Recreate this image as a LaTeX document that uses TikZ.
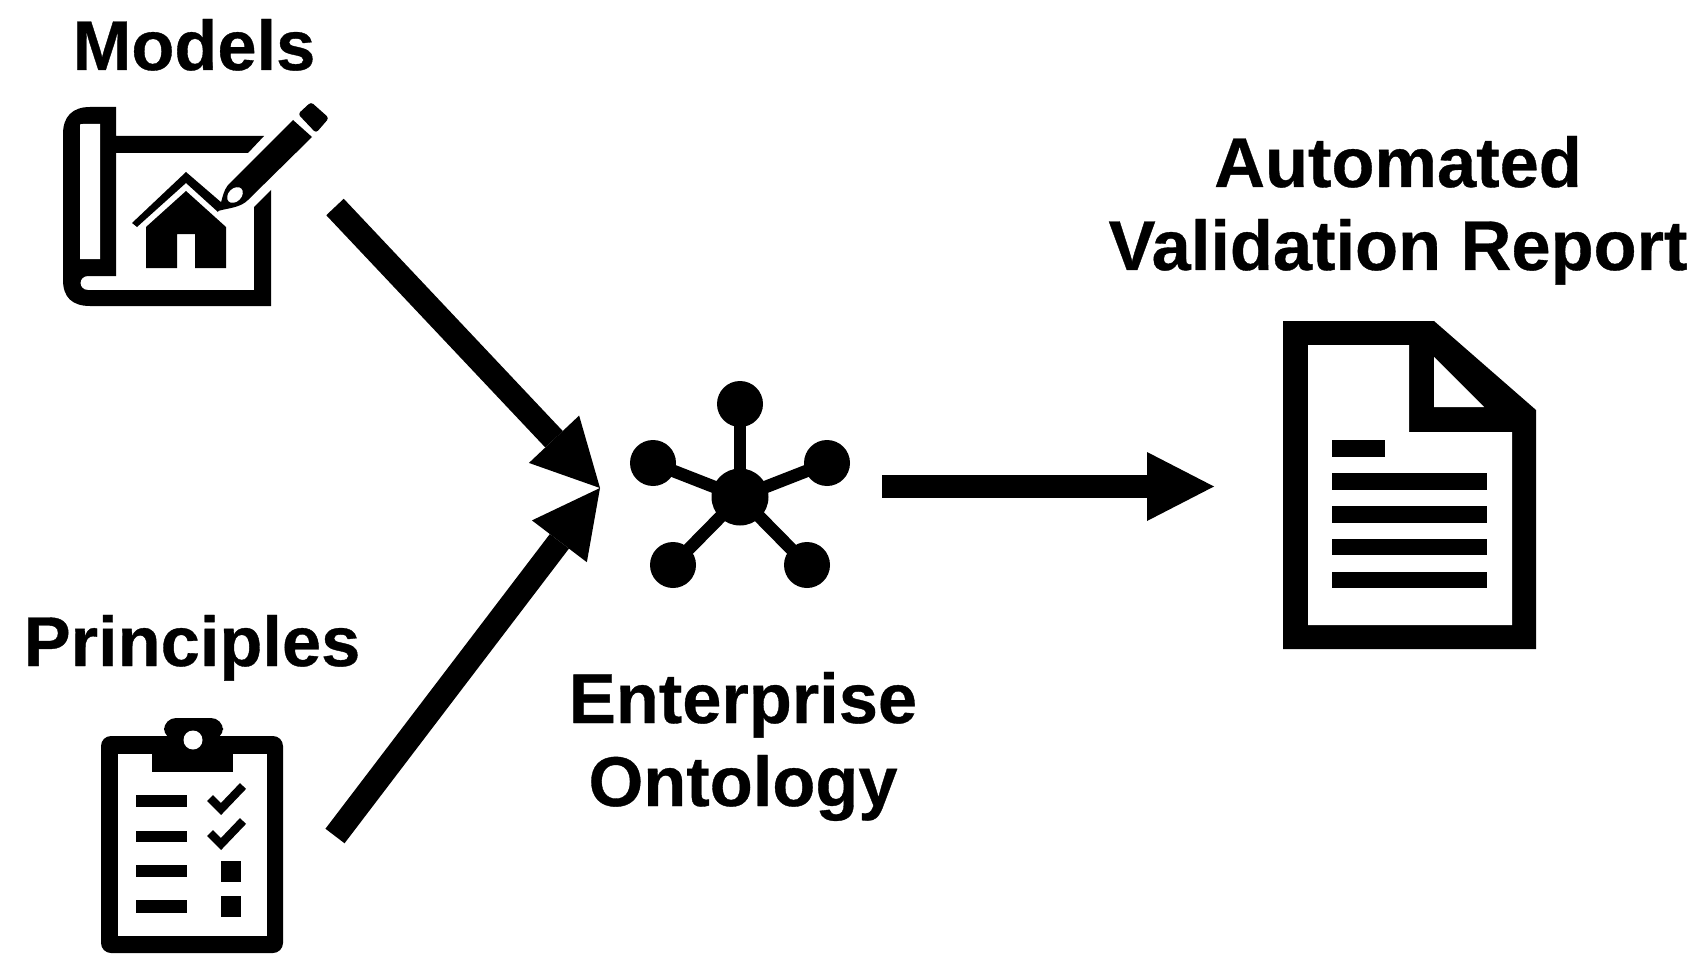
\documentclass[tikz,border=0pt]{standalone}
\usepackage{fontspec}
\setmainfont{Liberation Sans}[BoldFeatures={FakeBold=0.5}]
\usetikzlibrary{arrows.meta}
\tikzset{
  label text/.style={font=\fontsize{35.2pt}{41.5pt}\selectfont\bfseries,inner sep=0pt,align=center,anchor=base},
  flow/.style={line width=12pt,-{Triangle[length=33.5pt,width=34.5pt,line width=0pt]}},
  flow straight/.style={line width=11.5pt,-{Triangle[length=33.5pt,width=34.5pt,line width=0pt]}},
  hub/.style={circle,fill=black,inner sep=0pt,minimum size=28.5pt},
  leaf/.style={circle,fill=black,inner sep=0pt,minimum size=23pt},
  spoke/.style={line width=6.3pt},
  ink/.style={fill=black,draw=none},
  paper/.style={fill=white,draw=none}
}
\begin{document}
\begin{tikzpicture}[x=.5pt,y=-.5pt]
\useasboundingbox (0,0) rectangle (1704,979);
% labels
\node[label text] (models) at (194,70) {Models};
\node[label text] (principles) at (192,666) {Principles};
\node[label text] (enterprise) at (743,806) {Enterprise\\Ontology};
\node[label text] (report) at (1398,270) {Automated\\Validation Report};
% blueprint icon
\path[ink] (100,107) -- (116,107) -- (116,136) -- (264,136) -- (248,153) -- (116,153) -- (116,276) -- (88,276)
  .. controls (78,276) and (78,290) .. (88,290) -- (254,290) -- (254,207) -- (271,190) -- (271,306) -- (90,306)
  .. controls (72,306) and (63,297) .. (63,280) -- (63,134)
  .. controls (63,117) and (72,107) .. (90,107) -- cycle;
\path[paper] (80,126) .. controls (80,124) .. (83,124) -- (100,124) -- (100,259) -- (80,259) -- cycle;
\path[ink] (186,191) -- (226,227) -- (226,268) -- (195,268) -- (195,234) -- (177,234) -- (177,268) -- (146,268) -- (146,227) -- cycle;
\path[ink] (186,172) -- (222,203) -- (218,212) -- (186,183) -- (137,227) -- (132,223) -- cycle;
\path[ink] (218,211) .. controls (222,204) and (222,190) .. (230,183) -- (293,120) -- (312,137) -- (248,200) .. controls (240,208) and (228,208) .. (218,211) -- cycle;
\path[paper,rotate around={45:(235,195)}] (235,195) ellipse [x radius=9,y radius=6.5];
\path[ink,rounded corners=1.5pt] (298,114) -- (311,102) -- (329,118) -- (316,133) -- cycle;
% clipboard icon
\path[ink,rounded corners=5pt] (101,736) rectangle (283,953);
\path[paper] (118,754) rectangle (267,936);
\path[ink] (152,736) rectangle (233,772);
\path[ink,rounded corners=6pt] (164,740) -- (164,718) -- (223,718) -- (223,740) -- cycle;
\path[paper] (193,740) circle [radius=9.5];
\foreach \a/\b in {795/807,831/842,865/877,900/913} \path[ink] (136,\a) rectangle (187,\b);
\foreach \a in {0,35} \draw[line width=4.2pt] (210,798+\a) -- (221,809+\a) -- (243,786+\a);
\path[ink] (221,861) rectangle (241,882);
\path[ink] (221,896) rectangle (241,917);
% ontology icon
\node[hub] (hubnode) at (740,497) {};
\node[leaf] (top) at (740,404) {};
\node[leaf] (left) at (653,463) {};
\node[leaf] (right) at (827,463) {};
\node[leaf] (lowleft) at (673,565) {};
\node[leaf] (lowright) at (807,565) {};
\foreach \n in {top,left,right,lowleft,lowright} \draw[spoke] (hubnode.center) -- (\n.center);
% document icon
\path[ink] (1283,321) -- (1434,321) -- (1536,410) -- (1536,649) -- (1283,649) -- cycle;
\path[paper] (1308,345) -- (1409,345) -- (1409,432) -- (1512,432) -- (1512,625) -- (1308,625) -- cycle;
\path[paper] (1434,357) -- (1484,407) -- (1434,407) -- cycle;
\path[ink] (1332,440) rectangle (1385,457);
\foreach \a/\b in {473/490,506/523,539/555,572/588} \path[ink] (1332,\a) rectangle (1487,\b);
% connectors
\coordinate (modelsout) at (335,207);
\coordinate (principlesout) at (335,836);
\coordinate (ontoin) at (600,488);
\coordinate (ontoout) at (882,486.5);
\coordinate (reportin) at (1214,486.5);
\draw[flow] (modelsout) -- (ontoin);
\draw[flow] (principlesout) -- (ontoin);
\draw[flow straight] (ontoout) -- (reportin);
\end{tikzpicture}
\end{document}
